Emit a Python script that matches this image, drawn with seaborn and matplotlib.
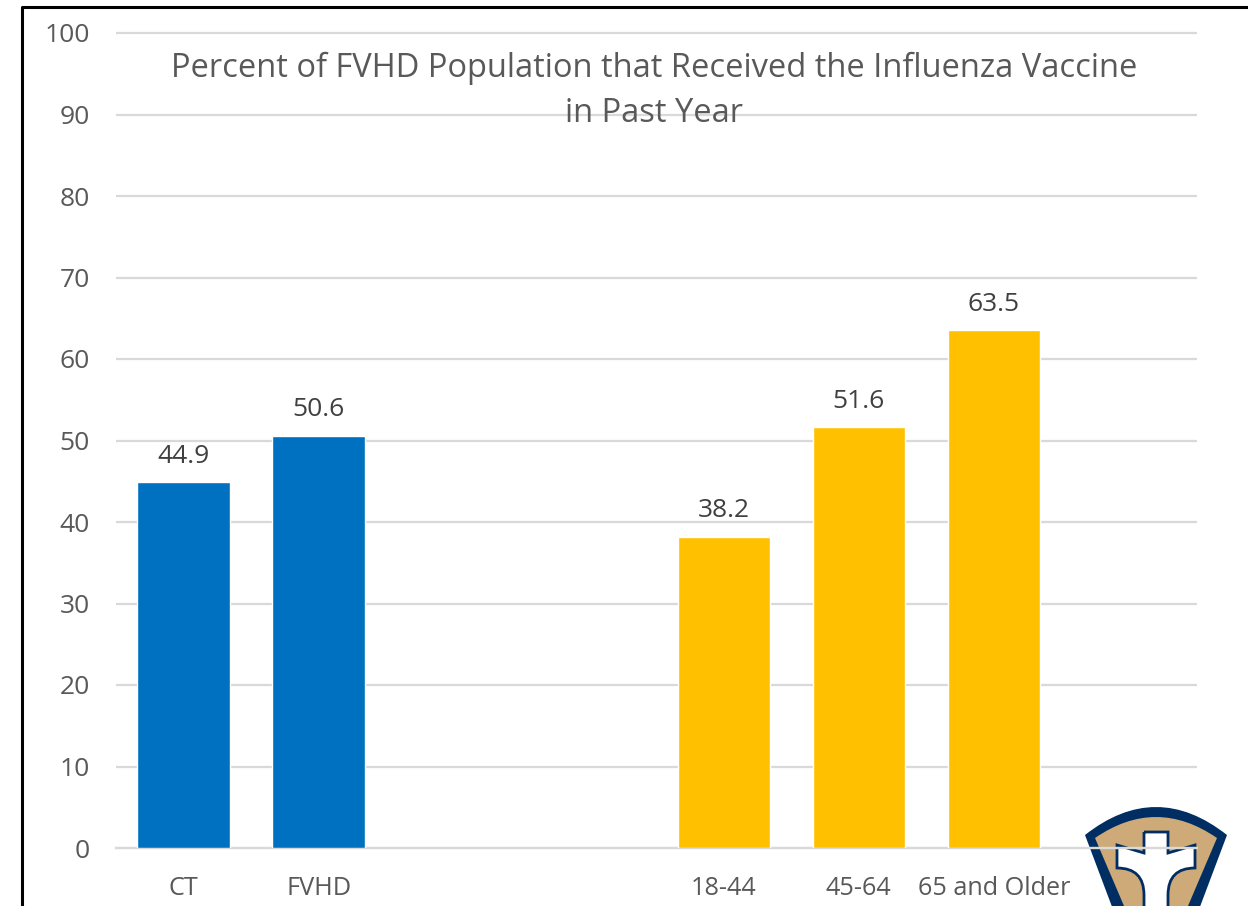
import matplotlib
matplotlib.use("Agg")
import matplotlib.pyplot as plt
import seaborn as sns
import pandas as pd
from matplotlib.patches import PathPatch
from matplotlib.path import Path
from matplotlib.transforms import Affine2D

categories = ["CT", "FVHD", " ", "  ", "18-44", "45-64", "65 and Older", "   "]
values = [44.9, 50.6, None, None, 38.2, 51.6, 63.5, None]
groups = ["overall", "overall", "overall", "overall", "age", "age", "age", "age"]
palette = {"overall": "#0070C0", "age": "#FFC000"}
yticks = list(range(0, 101, 10))
title = "Percent of FVHD Population that Received the Influenza Vaccine\nin Past Year"

W, H = 1248, 906
sns.set_theme(style="white")
plt.rcParams["font.family"] = ["Open Sans", "DejaVu Sans"]

fig = plt.figure(figsize=(W / 100, H / 100), dpi=100, facecolor="white")
ax = fig.add_axes([116 / W, 1 - 848 / H, 1080.5 / W, 815 / H], zorder=20)
ax.patch.set_visible(False)
df = pd.DataFrame({"cat": categories, "val": values, "grp": groups})
sns.barplot(data=df, x="cat", y="val", hue="grp", palette=palette, order=categories,
            dodge=False, width=0.685, saturation=1, legend=False, ax=ax, zorder=3)
ax.set_xlim(-0.5, 7.5)
ax.set_ylim(0, 100)
ax.set_yticks(yticks)
ax.set_xlabel("")
ax.set_ylabel("")
ax.grid(axis="y", color="#D9D9D9", lw=1.6, zorder=0, clip_on=False, solid_capstyle="butt")
ax.set_axisbelow(True)
for s in ["top", "left", "right"]:
    ax.spines[s].set_visible(False)
ax.spines["bottom"].set_color("#D9D9D9")
ax.spines["bottom"].set_linewidth(1.6)
ax.tick_params(axis="both", length=0, colors="#595959")
ax.tick_params(axis="y", labelsize=19, pad=19)
ax.tick_params(axis="x", labelsize=18.2, pad=20)

for i, v in enumerate(values):
    if v is not None:
        ax.annotate(f"{v:.1f}", (i, v), xytext=(0, 9.5), textcoords="offset points",
                    ha="center", va="bottom", fontsize=19, color="#404040", zorder=5)

ax.text(654, 91, title, transform=Affine2D().scale(1, -1).translate(0, H),
        ha="center", va="center", fontsize=23.5,
        color="#595959", linespacing=1.5, zorder=6)

# slide frame
px = Affine2D().scale(1, -1).translate(0, H)
fig.add_artist(plt.Line2D([22, 22, W], [H, 7, 7], transform=px, color="black", lw=2.2))

# logo
M, L, C = Path.MOVETO, Path.LINETO, Path.CURVE3

def shield(x0, x1, yside, ctrl, xb0, xb1, color, z):
    cx = (x0 + x1) / 2
    verts = [(x0, yside), (cx, ctrl), (x1, yside), (xb1, 920), (xb0, 920), (x0, yside)]
    codes = [M, C, C, L, L, L]
    fig.add_artist(PathPatch(Path(verts, codes), fc=color, ec="none", transform=px, zorder=z))

shield(1085, 1227, 835, 779, 1117, 1195, "#002D62", 7)
shield(1095, 1217, 838, 796, 1130, 1182, "#CDAA78", 8)

cross_v = [(1144, 832), (1168, 832), (1168, 853), (1195, 845), (1195, 868),
           (1168, 868), (1168, 895), (1168, 915), (1144, 915), (1144, 895),
           (1144, 868), (1117, 868), (1117, 845), (1144, 853), (1144, 832)]
cross_c = [M, L, L, L, L, C, C, L, L, L, C, C, L, L, L]
fig.add_artist(PathPatch(Path(cross_v, cross_c), fc="white", ec="#002D62", lw=2,
                         transform=px, zorder=9))

fig.savefig("out.png", dpi=100)
